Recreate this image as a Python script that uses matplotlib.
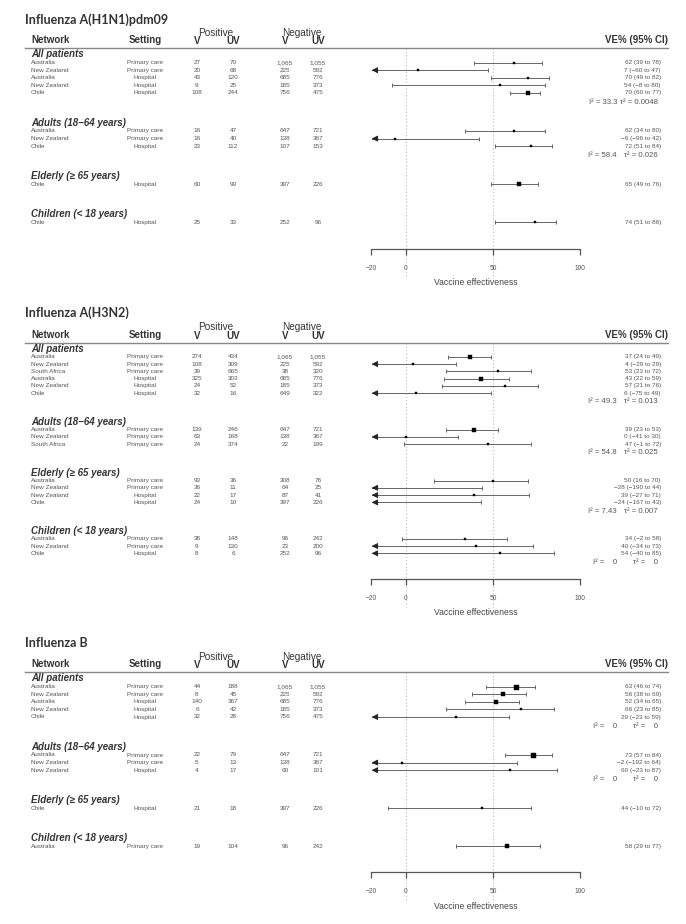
import matplotlib
matplotlib.use("Agg")
import matplotlib.pyplot as plt
import matplotlib.transforms as mtransforms

# ---------------- DATA ----------------
groups = ["All patients", "Adults (18\u221264 years)", "Elderly (\u2265 65 years)", "Children (< 18 years)"]

# Influenza A(H1N1)pdm09
h1_title = "Influenza A(H1N1)pdm09"
h1_group = [0, 0, 0, 0, 0, 1, 1, 1, 2, 3]
h1_network = ["Australia", "New Zealand", "Australia", "New Zealand", "Chile",
              "Australia", "New Zealand", "Chile", "Chile", "Chile"]
h1_setting = ["Primary care", "Primary care", "Hospital", "Hospital", "Hospital",
              "Primary care", "Primary care", "Hospital", "Hospital", "Hospital"]
h1_pos_v = ["27", "20", "43", "9", "108", "16", "16", "23", "60", "25"]
h1_pos_uv = ["70", "68", "120", "25", "244", "47", "40", "112", "99", "33"]
h1_neg_v = ["1,065", "225", "685", "185", "756", "647", "138", "107", "397", "252"]
h1_neg_uv = ["1,055", "592", "776", "373", "475", "721", "367", "153", "226", "96"]
h1_ve = [62, 7, 70, 54, 70, 62, -6, 72, 65, 74]
h1_lo = [39, -60, 49, -8, 60, 34, -96, 51, 49, 51]
h1_hi = [78, 47, 82, 80, 77, 80, 42, 84, 76, 86]
h1_weight = [0.25, 0.25, 0.25, 0.25, 0.9, 0.25, 0.25, 0.3, 0.5, 0.3]
h1_i2 = {0: "33.3", 1: "58.4"}
h1_tau2 = {0: "0.0048", 1: "0.026"}

# Influenza A(H3N2)
h3_title = "Influenza A(H3N2)"
h3_group = [0, 0, 0, 0, 0, 0, 1, 1, 1, 2, 2, 2, 2, 3, 3, 3]
h3_network = ["Australia", "New Zealand", "South Africa", "Australia", "New Zealand", "Chile",
              "Australia", "New Zealand", "South Africa",
              "Australia", "New Zealand", "New Zealand", "Chile",
              "Australia", "New Zealand", "Chile"]
h3_setting = ["Primary care", "Primary care", "Primary care", "Hospital", "Hospital", "Hospital",
              "Primary care", "Primary care", "Primary care",
              "Primary care", "Primary care", "Hospital", "Hospital",
              "Primary care", "Primary care", "Hospital"]
h3_pos_v = ["274", "108", "39", "325", "24", "32", "139", "63", "24", "93", "36", "22", "24", "38", "9", "8"]
h3_pos_uv = ["434", "309", "665", "303", "52", "16", "246", "168", "374", "36", "11", "17", "10", "148", "130", "6"]
h3_neg_v = ["1,065", "225", "38", "685", "185", "649", "647", "138", "22", "308", "64", "87", "397", "96", "23", "252"]
h3_neg_uv = ["1,055", "592", "320", "776", "373", "322", "721", "367", "199", "76", "25", "41", "226", "242", "200", "96"]
h3_ve = [37, 4, 53, 43, 57, 6, 39, 0, 47, 50, -28, 39, -24, 34, 40, 54]
h3_lo = [24, -29, 23, 22, 21, -75, 23, -41, -1, 16, -190, -27, -167, -2, -34, -40]
h3_hi = [49, 29, 72, 59, 76, 49, 53, 30, 72, 70, 44, 71, 43, 58, 73, 85]
h3_weight = [0.9, 0.2, 0.3, 0.7, 0.2, 0.1, 0.8, 0.2, 0.1, 0.3, 0.1, 0.1, 0.1, 0.2, 0.1, 0.1]
h3_i2 = {0: "49.3", 1: "54.8", 2: "7.43", 3: "0"}
h3_tau2 = {0: "0.013", 1: "0.025", 2: "0.007", 3: "0"}

# Influenza B
b_title = "Influenza B"
b_group = [0, 0, 0, 0, 0, 1, 1, 1, 2, 3]
b_network = ["Australia", "New Zealand", "Australia", "New Zealand", "Chile",
             "Australia", "New Zealand", "New Zealand", "Chile", "Australia"]
b_setting = ["Primary care", "Primary care", "Hospital", "Hospital", "Hospital",
             "Primary care", "Primary care", "Hospital", "Hospital", "Primary care"]
b_pos_v = ["44", "8", "140", "6", "32", "22", "5", "4", "21", "19"]
b_pos_uv = ["188", "45", "367", "42", "28", "79", "13", "17", "18", "104"]
b_neg_v = ["1,065", "225", "685", "185", "756", "647", "138", "60", "397", "96"]
b_neg_uv = ["1,055", "592", "776", "373", "475", "721", "367", "101", "226", "242"]
b_ve = [63, 56, 52, 66, 29, 73, -2, 60, 44, 58]
b_lo = [46, 38, 34, 23, -23, 57, -192, -23, -10, 29]
b_hi = [74, 69, 65, 85, 59, 84, 64, 87, 72, 77]
b_weight = [1.0, 0.9, 0.9, 0.3, 0.2, 1.0, 0.1, 0.1, 0.2, 0.45]
b_i2 = {0: "0", 1: "0"}
b_tau2 = {0: "0", 1: "0"}

# ---------------- LAYOUT ----------------
W, H = 686, 924
fig = plt.figure(figsize=(W / 100, H / 100), dpi=100)

SANS = ["Liberation Sans", "DejaVu Sans"]
TITLE_FONT = ["Lato", "DejaVu Sans"]
C_TXT = "#555555"
C_HEAD = "#333333"

X_LEFT, X_RIGHT = 25, 668
X_NET, X_SET = 31, 145
X_PV, X_PUV, X_NV, X_NUV = 197, 233, 285, 318
X_AX0, X_AX1 = 371, 580
X_VE, X_I2, X_TAU = 661, 617, 658
XMIN, XMAX = -20, 100


def minus(v):
    return str(v).replace("-", "\u2212")


def draw_panel(title, title_y, line_y, row0, dy, axis_row, d):
    group, network, setting, pv, puv, nv, nuv, ve, lo, hi, weight, i2, tau2 = d
    axis_px = row0 + axis_row * dy
    bottom_px = axis_px + 45
    top_px = line_y - 2
    ax = fig.add_axes([X_AX0 / W, 1 - bottom_px / H, (X_AX1 - X_AX0) / W, (bottom_px - top_px) / H])
    ax.set_xlim(XMIN, XMAX)
    ax.set_ylim((bottom_px - row0) / dy, (top_px - row0) / dy)
    ax.patch.set_alpha(0)
    for s in ["top", "left", "right"]:
        ax.spines[s].set_visible(False)
    ax.spines["bottom"].set_position(("data", axis_row))
    ax.spines["bottom"].set_bounds(XMIN, XMAX)
    ax.spines["bottom"].set_color("#555555")
    ax.spines["bottom"].set_linewidth(0.9)
    ax.set_yticks([])
    ax.set_xticks([-20, 0, 50, 100])
    ax.tick_params(axis="x", direction="out", length=4.5, width=0.9, color="#555555",
                   labelcolor=C_TXT, labelsize=4.8, pad=7)
    for lab in ax.get_xticklabels():
        lab.set_family(SANS)
    tr = mtransforms.blended_transform_factory(fig.transFigure, ax.transData)

    # reference lines
    line_row = (line_y - row0) / dy
    ax.vlines([0, 50], line_row, axis_row + 28 / dy, colors="#bbbbbb",
              linestyles=(0, (1, 2)), linewidth=0.8, zorder=0)

    # title and header
    fig.text(X_LEFT / W, 1 - title_y / H, title, family=TITLE_FONT, weight="bold",
             fontsize=9, color=C_HEAD, ha="left", va="center")
    hy = line_y - 8
    hk = dict(family=SANS, weight="bold", fontsize=7, color=C_HEAD, va="center")
    fig.text(X_NET / W, 1 - hy / H, "Network", ha="left", **hk)
    fig.text(X_SET / W, 1 - hy / H, "Setting", ha="center", **hk)
    for xv, xu, lab, x_lab in [(X_PV, X_PUV, "Positive", 216), (X_NV, X_NUV, "Negative", 302)]:
        fig.text(xv / W, 1 - (hy + 1) / H, "V", ha="center", **hk)
        fig.text(xu / W, 1 - (hy + 1) / H, "UV", ha="center", **hk)
        fig.text(x_lab / W, 1 - (hy - 7.5) / H, lab, ha="center", family=SANS,
                 fontsize=7.2, color=C_HEAD, va="center")
    fig.text(X_RIGHT / W, 1 - hy / H, "VE% (95% CI)", ha="right", **hk)
    ax.plot([X_LEFT / W, X_RIGHT / W], [line_row, line_row], transform=tr,
            color="#888888", lw=1.0, clip_on=False)

    tk = dict(family=SANS, fontsize=4.6, color=C_TXT, va="center")
    r = 0
    for g in range(len(groups)):
        idx = [i for i, gg in enumerate(group) if gg == g]
        ax.text(X_NET / W, r - 0.1, groups[g], transform=tr, family=SANS, weight="bold",
                style="italic", fontsize=7, color=C_HEAD, ha="left", va="center")
        for k, i in enumerate(idx):
            row = r + 1 + k
            ax.text(X_NET / W, row, network[i], transform=tr, ha="left", **tk)
            ax.text(X_SET / W, row, setting[i], transform=tr, ha="center", **tk)
            ax.text(X_PV / W, row, pv[i], transform=tr, ha="center", **tk)
            ax.text(X_PUV / W, row, puv[i], transform=tr, ha="center", **tk)
            ax.text(X_NV / W, row, nv[i], transform=tr, ha="center", **tk)
            ax.text(X_NUV / W, row, nuv[i], transform=tr, ha="center", **tk)
            ax.text(X_VE / W, row, f"{minus(ve[i])} ({minus(lo[i])} to {minus(hi[i])})",
                    transform=tr, ha="right", **tk)
            left = max(lo[i], -19.5)
            ax.plot([left, hi[i]], [row, row], color="#666666", lw=0.7, zorder=2)
            ax.plot([hi[i]], [row], marker="|", ms=3, mew=0.7, color="#666666", zorder=2)
            if lo[i] >= XMIN:
                ax.plot([lo[i]], [row], marker="|", ms=3, mew=0.7, color="#666666", zorder=2)
            else:
                ax.annotate("", xy=(-19.6, row), xytext=(-16.0, row),
                            arrowprops=dict(arrowstyle="-|>,head_length=0.6,head_width=0.3",
                                            color="#222222", lw=0.6, shrinkA=0, shrinkB=0,
                                            mutation_scale=6), zorder=3)
            if ve[i] >= XMIN:
                ax.plot([ve[i]], [row], marker="s", ms=1.4 + 2.2 * weight[i],
                        color="black", mec="black", mew=0.3, zorder=4)
        n = len(idx)
        if g in i2:
            hrow = r + n + 1.2
            ax.text(X_I2 / W, hrow, f"I\u00b2 = {i2[g]:>4}", transform=tr, ha="right",
                    family=SANS, fontsize=5.6, color=C_TXT, va="center")
            ax.text(X_TAU / W, hrow, f"\u03c4\u00b2 = {tau2[g]:>4}", transform=tr, ha="right",
                    family=SANS, fontsize=5.6, color=C_TXT, va="center")
        r += n + 4

    ax.text(40, axis_row + 34 / dy, "Vaccine effectiveness", ha="center", va="center",
            family=SANS, fontsize=6.2, color="#444444")


draw_panel(h1_title, 20, 48, 55, 7.6, 25.5,
           (h1_group, h1_network, h1_setting, h1_pos_v, h1_pos_uv, h1_neg_v, h1_neg_uv,
            h1_ve, h1_lo, h1_hi, h1_weight, h1_i2, h1_tau2))
draw_panel(h3_title, 313, 343, 349.5, 7.28, 31.5,
           (h3_group, h3_network, h3_setting, h3_pos_v, h3_pos_uv, h3_neg_v, h3_neg_uv,
            h3_ve, h3_lo, h3_hi, h3_weight, h3_i2, h3_tau2))
draw_panel(b_title, 643, 672, 679, 7.6, 25.4,
           (b_group, b_network, b_setting, b_pos_v, b_pos_uv, b_neg_v, b_neg_uv,
            b_ve, b_lo, b_hi, b_weight, b_i2, b_tau2))

fig.savefig("out.png", dpi=100, facecolor="white")
